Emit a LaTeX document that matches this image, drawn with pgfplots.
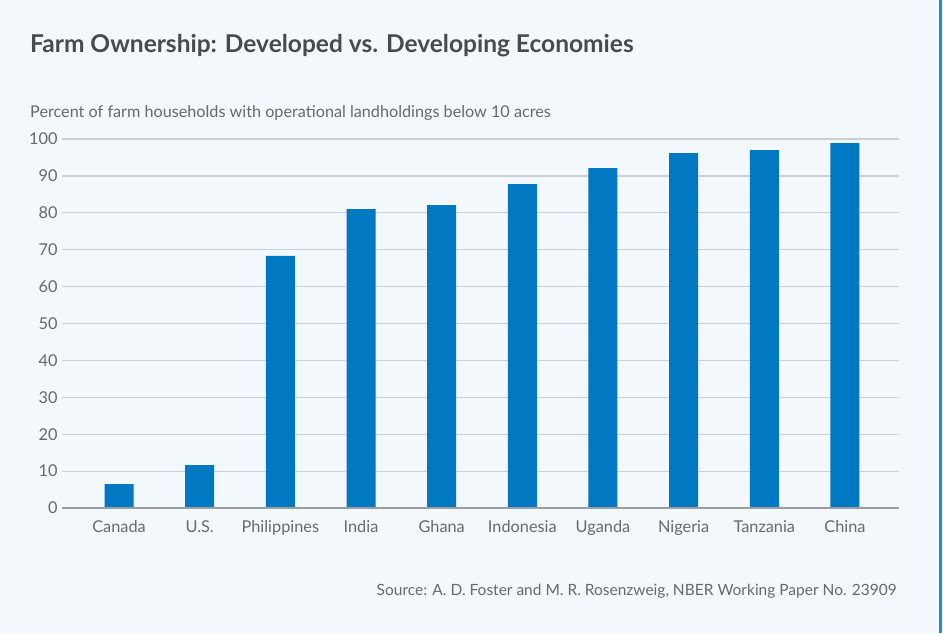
\documentclass[border=0pt]{standalone}
\usepackage{pgfplots}
\pgfplotsset{compat=1.18}
\usepackage{fontspec}
\setmainfont{Lato}
\definecolor{bg}{HTML}{F3F8FC}
\definecolor{barblue}{HTML}{0079C2}
\definecolor{gridgray}{HTML}{CBCED4}
\definecolor{axisgray}{HTML}{9A9DA3}
\definecolor{labelgray}{HTML}{666A70}
\definecolor{titlegray}{HTML}{474A4F}
\definecolor{edgeblue}{HTML}{1E8AD6}

\begin{document}
\begin{tikzpicture}[x=1pt,y=1pt]
% canvas, 1pt = 1px of the reference
\fill[white] (0,0) rectangle (952,633);
\fill[bg] (0,0) rectangle (939,633);
\fill[edgeblue] (939,0) rectangle (941.5,633);

\node[anchor=base west,font=\fontsize{24.5}{28}\selectfont\bfseries,text=titlegray,inner sep=0pt] at (30,580) {Farm Ownership: Developed vs. Developing Economies};
\node[anchor=base west,font=\fontsize{16.2}{19}\selectfont,text=labelgray,inner sep=0pt] at (30,515) {Percent of farm households with operational landholdings below 10 acres};
\node[anchor=base east,font=\fontsize{15.5}{18}\selectfont,text=labelgray,inner sep=0pt] at (897,38) {Source: A. D. Foster and M. R. Rosenzweig, NBER Working Paper No. 23909};

\begin{axis}[
    at={(62pt,125pt)}, anchor=south west,
    scale only axis,
    width=837pt, height=369pt,
    ymin=0, ymax=100,
    xmin=-0.707, xmax=9.67,
    ytick={0,10,...,100},
    xtick=data,
    xticklabels={Canada,U.S.,Philippines,India,Ghana,Indonesia,Uganda,Nigeria,Tanzania,China},
    tick style={draw=none},
    axis line style={draw=none},
    ymajorgrids,
    grid style={gridgray, line width=1.2pt},
    ticklabel style={font=\fontsize{16.3}{19}\selectfont, text=labelgray},
    /pgf/number format/assume math mode=true,
    yticklabel style={xshift=-1pt},
    xticklabel style={yshift=-9pt},
    clip=false,
]
\addplot[ybar, bar width=29pt, fill=barblue, draw=none] coordinates {
    (0,6.5) (1,11.6) (2,68.3) (3,81.0) (4,82.1)
    (5,87.8) (6,92.1) (7,96.2) (8,97.0) (9,98.9)
};
\draw[axisgray, line width=1.5pt] (axis cs:-0.707,0) -- (axis cs:9.67,0);
\end{axis}
\end{tikzpicture}
\end{document}
